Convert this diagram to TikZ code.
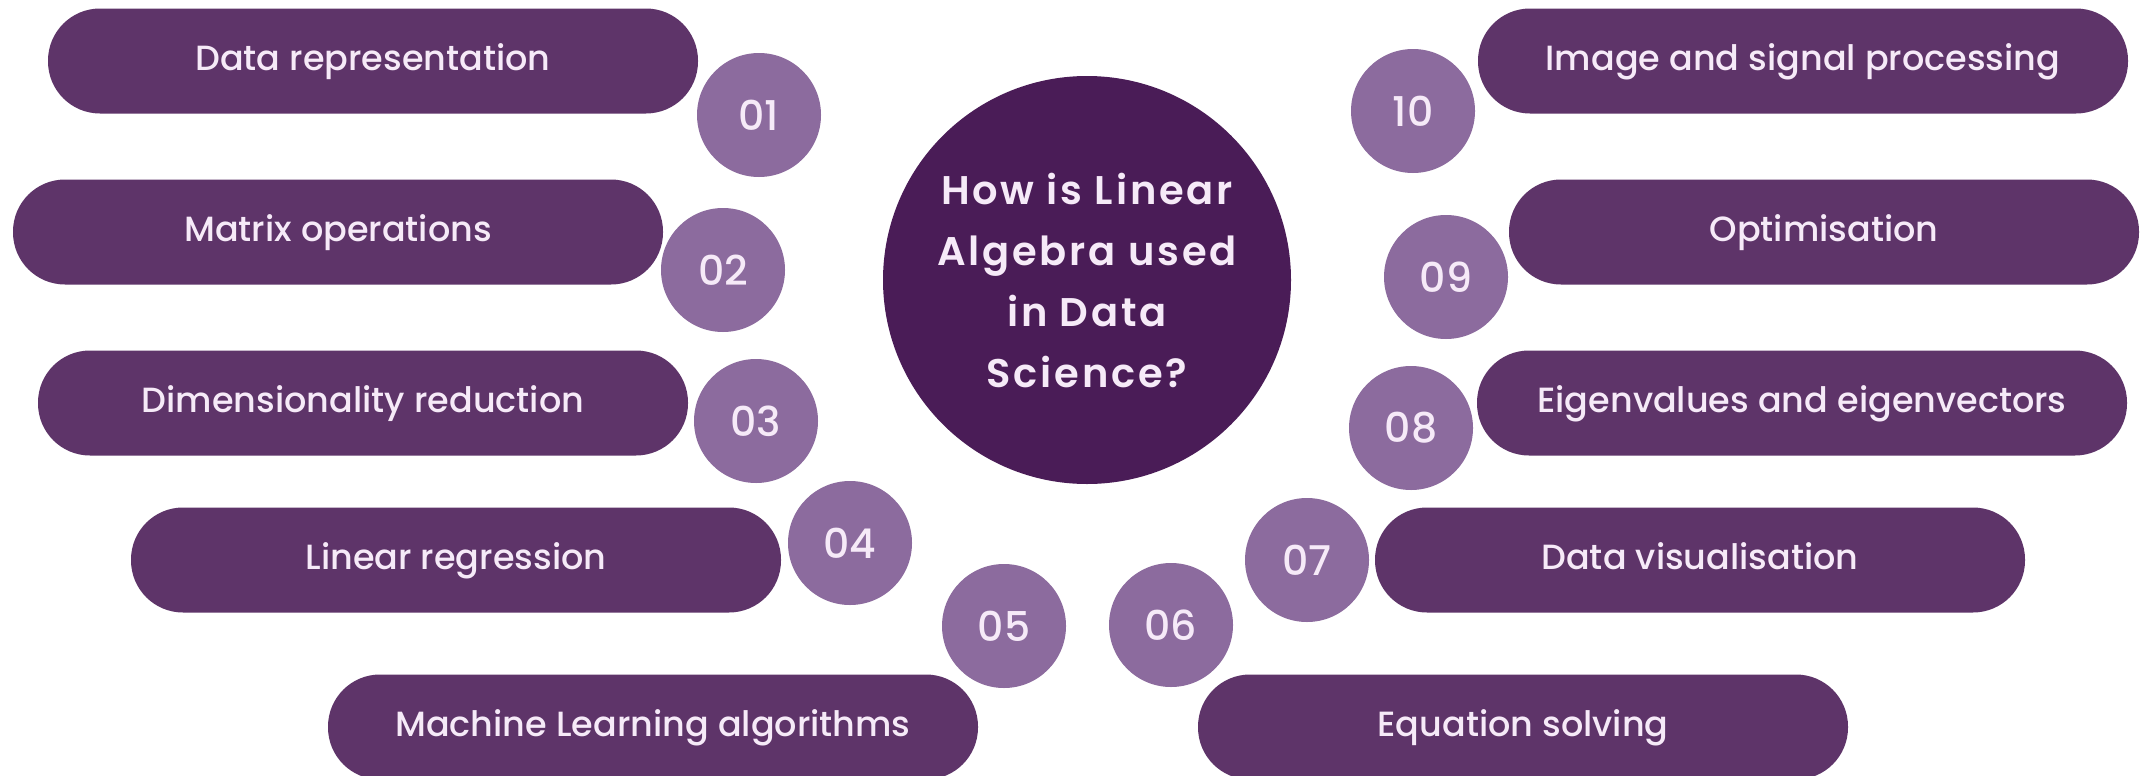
\documentclass[tikz,border=0pt]{standalone}
\usepackage{fontspec}
\setmainfont{Poppins}
\newfontfamily\pmed{Poppins Medium}
\newfontfamily\psemi{Poppins SemiBold}
\definecolor{pill}{HTML}{5E3469}
\definecolor{num}{HTML}{8C6B9E}
\definecolor{hub}{HTML}{4A1C57}
\definecolor{txt}{HTML}{F6EAF8}
\begin{document}
\begin{tikzpicture}[x=0.5pt,y=-0.5pt,
  pillbox/.style={fill=pill, rounded corners=26pt, minimum width=325pt, minimum height=52.5pt,
    text=txt, font=\pmed\fontsize{17.5}{20}\selectfont, inner sep=0pt,
    text height=12.5pt, text depth=3pt},
  numdisc/.style={circle, fill=num, minimum size=62pt, text=txt,
    font=\pmed\fontsize{20.5}{22}\selectfont, inner sep=0pt},
  hubdisc/.style={circle, fill=hub, minimum size=204pt, text=txt,
    font=\psemi\fontsize{20}{30.5}\selectfont\addfontfeature{LetterSpace=7}, align=center, inner sep=0pt}]
\useasboundingbox (0,0) rectangle (2141,776);
\fill[white] (0,0) rectangle (2141,776);
% left pills
\node[pillbox] (p1) at (373,61) {Data representation};
\node[pillbox] (p2) at (338,232) {Matrix operations};
\node[pillbox] (p3) at (363,403) {Dimensionality reduction};
\node[pillbox] (p4) at (456,560) {Linear regression};
\node[pillbox] (p5) at (653,727) {Machine Learning algorithms};
% right pills
\node[pillbox] (p10) at (1803,61) {Image and signal processing};
\node[pillbox, minimum width=315pt] (p9) at (1824,232) {Optimisation};
\node[pillbox] (p8) at (1802,403) {Eigenvalues and eigenvectors};
\node[pillbox] (p7) at (1700,560) {Data visualisation};
\node[pillbox] (p6) at (1523,727) {Equation solving};
% number discs
\node[numdisc] (n1) at (759,115) {01};
\node[numdisc] (n2) at (723,270) {02};
\node[numdisc] (n3) at (756,421) {03};
\node[numdisc] (n4) at (850,543) {04};
\node[numdisc] (n5) at (1004,626) {05};
\node[numdisc] (n6) at (1171,625) {06};
\node[numdisc] (n7) at (1307,560) {07};
\node[numdisc] (n8) at (1411,428) {08};
\node[numdisc] (n9) at (1446,277) {09};
\node[numdisc] (n10) at (1413,111) {10};
% hub
\node[hubdisc] (hub) at (1087,280) {How is Linear\\Algebra used\\in Data\\Science?};
\end{tikzpicture}
\end{document}
